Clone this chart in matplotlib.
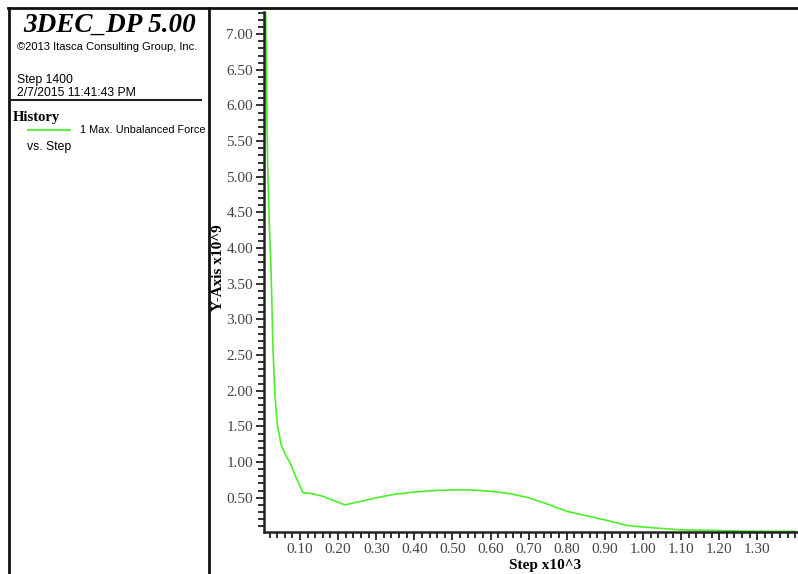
import matplotlib.pyplot as plt
from matplotlib.lines import Line2D
from matplotlib.ticker import MultipleLocator, FormatStrFormatter

# history: max unbalanced force vs step (x10^3 steps, x10^9 force)
steps = [0.010, 0.012, 0.015, 0.019, 0.024, 0.029, 0.034, 0.040, 0.050, 0.062,
         0.075, 0.090, 0.108, 0.130, 0.160, 0.190, 0.218, 0.260, 0.300, 0.350,
         0.400, 0.450, 0.500, 0.550, 0.600, 0.650, 0.700, 0.750, 0.800, 0.850,
         0.900, 0.960, 1.000, 1.050, 1.100, 1.200, 1.300, 1.400]
force = [7.30, 6.20, 5.20, 4.40, 3.70, 2.60, 1.95, 1.55, 1.25, 1.10,
         0.98, 0.78, 0.57, 0.56, 0.52, 0.46, 0.40, 0.45, 0.50, 0.55,
         0.58, 0.60, 0.61, 0.61, 0.59, 0.56, 0.50, 0.41, 0.31, 0.25,
         0.19, 0.11, 0.09, 0.07, 0.05, 0.04, 0.03, 0.03]

green = "#4cf02a"
W, H = 798, 574

fig = plt.figure(figsize=(W / 100, H / 100), dpi=100)

def px(x, y):
    return x / W, 1 - y / H

# frame
frame = dict(color="#111111", lw=2, transform=fig.transFigure)
fig.add_artist(Line2D([px(8, 0)[0], 1], [px(0, 8)[1]] * 2, **frame))
fig.add_artist(Line2D([px(9, 0)[0]] * 2, [px(0, 8)[1], 0], **frame))
fig.add_artist(Line2D([px(209, 0)[0]] * 2, [px(0, 8)[1], 0], **frame))
fig.add_artist(Line2D([px(10, 0)[0], px(201, 0)[0]], [px(0, 100)[1]] * 2,
                      color="#222222", lw=1.5, transform=fig.transFigure))

# left panel text
fig.text(*px(110, 25), "3DEC_DP 5.00", family="Liberation Serif", weight="bold",
         style="italic", size=19.5, ha="center", va="center")
fig.text(*px(17, 47), "\u00a92013 Itasca Consulting Group, Inc.",
         family="Liberation Sans", size=8, va="center")
fig.text(*px(17, 80), "Step 1400", family="Liberation Sans", size=8.8, va="center")
fig.text(*px(17, 93), "2/7/2015 11:41:43 PM", family="Liberation Sans", size=8.8,
         va="center")
fig.text(*px(13, 117), "History", family="Liberation Serif", weight="bold",
         size=10.5, va="center")
fig.add_artist(Line2D([px(28, 0)[0], px(70, 0)[0]], [px(0, 130)[1]] * 2,
                      color=green, lw=1.3, transform=fig.transFigure))
fig.text(*px(80, 130), "1 Max. Unbalanced Force", family="Liberation Sans",
         size=7.8, va="center")
fig.text(*px(27, 147), "vs. Step", family="Liberation Sans", size=8.8, va="center")

# plot area
l, b = px(264, 532)
r, t = px(798, 12)
ax = fig.add_axes([l, b, r - l, t - b])
ax.plot(steps, force, color=green, lw=1.2)
ax.set_xlim(0.0055, 1.407)
ax.set_ylim(0.02, 7.31)

for s in ("top", "right"):
    ax.spines[s].set_visible(False)
for s in ("left", "bottom"):
    ax.spines[s].set_linewidth(1.8)
    ax.spines[s].set_color("#222222")

ax.xaxis.set_major_locator(MultipleLocator(0.1))
ax.xaxis.set_minor_locator(MultipleLocator(0.02))
ax.yaxis.set_major_locator(MultipleLocator(0.5))
ax.yaxis.set_minor_locator(MultipleLocator(0.1))
ax.xaxis.set_major_formatter(FormatStrFormatter("%.2f"))
ax.yaxis.set_major_formatter(FormatStrFormatter("%.2f"))
ax.set_xticks([v / 10 for v in range(1, 14)])
ax.set_yticks([v / 2 for v in range(1, 15)])

ax.tick_params(which="major", length=6, width=1.3, color="#222222",
               labelsize=11, labelcolor="#444444", pad=2)
ax.tick_params(which="minor", length=4, width=1.3, color="#222222")
for lab in ax.get_xticklabels() + ax.get_yticklabels():
    lab.set_family("Liberation Serif")

fig.text(*px(545, 565), "Step x10^3", family="Liberation Serif", weight="bold",
         size=11, ha="center", va="center")
fig.text(*px(219, 268), "Y-Axis x10^9", family="Liberation Serif", weight="bold",
         size=11, ha="center", va="center", rotation=90)

fig.savefig("out.png", dpi=100)
